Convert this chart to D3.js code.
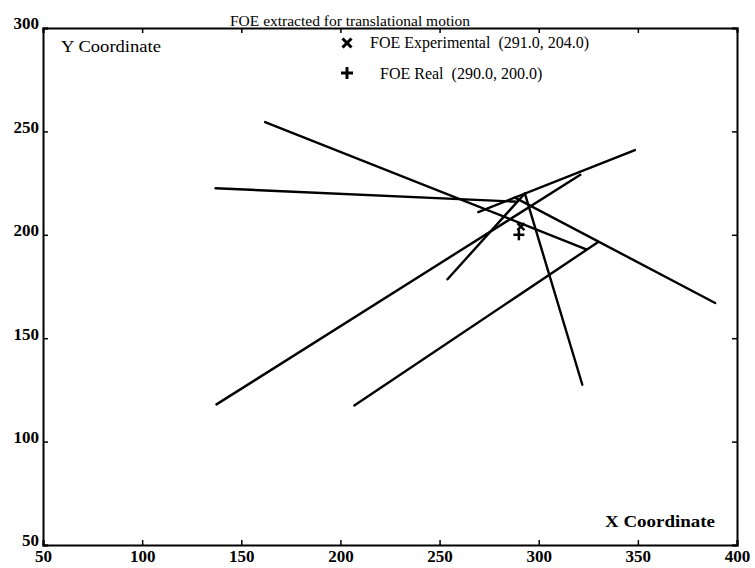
<!DOCTYPE html>
<html>
<head>
<meta charset="utf-8">
<script src="https://cdn.jsdelivr.net/npm/d3@7"></script>
<style>
  body { margin: 0; background: #fff; }
  text { font-family: "Liberation Serif", "DejaVu Serif", serif; fill: #000; }
</style>
</head>
<body>
<div id="chart"></div>
<script>
// Chart data
var xTicks = [50, 100, 150, 200, 250, 300, 350, 400];
var yTicks = [50, 100, 150, 200, 250, 300];

// Flow lines, start and end points in data coordinates
var lineStart = [[162, 254.5], [137, 222.5], [137.5, 118], [207, 117.5], [254, 178.5], [293, 220], [288, 218], [269.5, 211]];
var lineEnd   = [[324, 193],   [289, 216],   [321, 229],   [330, 196.5], [293, 220],   [322, 127.5], [389, 167], [348.5, 241]];

var foeExperimental = [291.0, 204.0];
var foeReal = [290.0, 200.0];

var titleText = "FOE extracted for translational motion";

// SVG size and margins
var svgWidth = 755;
var svgHeight = 568;
var margin = { top: 28, right: 18, bottom: 23, left: 43 };
var width = svgWidth - margin.left - margin.right;
var height = svgHeight - margin.top - margin.bottom;

var svg = d3.select("#chart")
  .append("svg")
  .attr("width", svgWidth)
  .attr("height", svgHeight);

var chartGroup = svg.append("g")
  .attr("transform", `translate(${margin.left}, ${margin.top})`);

// Scales
var xScale = d3.scaleLinear().domain([50, 400]).range([0, width]);
var yScale = d3.scaleLinear().domain([50, 300]).range([height, 0]);

// Axes with inside ticks
var bottomAxis = d3.axisBottom(xScale).tickValues(xTicks).tickSize(-5).tickPadding(5);
var topAxis = d3.axisTop(xScale).tickValues(xTicks).tickSize(-5).tickFormat("");
var leftAxis = d3.axisLeft(yScale).tickValues(yTicks).tickSize(-5).tickPadding(4);
var rightAxis = d3.axisRight(yScale).tickValues(yTicks).tickSize(-5).tickFormat("");

function styleAxis(g) {
  g.select(".domain").attr("stroke", "#000").attr("stroke-width", 2);
  g.selectAll(".tick line").attr("stroke", "#000").attr("stroke-width", 1.5);
  g.selectAll(".tick text")
    .attr("font-family", "Liberation Serif")
    .attr("font-size", "17px")
    .attr("font-weight", "bold")
    .attr("fill", "#000");
}

chartGroup.append("g")
  .attr("transform", `translate(0, ${height})`)
  .call(bottomAxis)
  .call(styleAxis);

chartGroup.append("g")
  .call(topAxis)
  .call(styleAxis);

chartGroup.append("g")
  .call(leftAxis)
  .call(styleAxis)
  .selectAll(".tick text")
  .attr("dy", "0.05em");

chartGroup.append("g")
  .attr("transform", `translate(${width}, 0)`)
  .call(rightAxis)
  .call(styleAxis);

// Flow lines
chartGroup.selectAll(".flow")
  .data(lineStart)
  .enter()
  .append("line")
  .attr("class", "flow")
  .attr("x1", d => xScale(d[0]))
  .attr("y1", d => yScale(d[1]))
  .attr("x2", (d, i) => xScale(lineEnd[i][0]))
  .attr("y2", (d, i) => yScale(lineEnd[i][1]))
  .attr("stroke", "#000")
  .attr("stroke-width", 2.4)
  .attr("stroke-linecap", "round");

// Markers: x for experimental FOE, + for real FOE
function drawX(g, cx, cy, r, w) {
  g.append("line").attr("x1", cx - r).attr("y1", cy - r).attr("x2", cx + r).attr("y2", cy + r)
    .attr("stroke", "#000").attr("stroke-width", w);
  g.append("line").attr("x1", cx - r).attr("y1", cy + r).attr("x2", cx + r).attr("y2", cy - r)
    .attr("stroke", "#000").attr("stroke-width", w);
}
function drawPlus(g, cx, cy, r, w) {
  g.append("line").attr("x1", cx - r).attr("y1", cy).attr("x2", cx + r).attr("y2", cy)
    .attr("stroke", "#000").attr("stroke-width", w);
  g.append("line").attr("x1", cx).attr("y1", cy - r).attr("x2", cx).attr("y2", cy + r)
    .attr("stroke", "#000").attr("stroke-width", w);
}

drawX(chartGroup, xScale(foeExperimental[0]), yScale(foeExperimental[1]), 3.5, 2.5);
drawPlus(chartGroup, xScale(foeReal[0]), yScale(foeReal[1]), 5.5, 2.5);

// Title, sitting on the top frame line
svg.append("text")
  .attr("x", 230)
  .attr("y", margin.top - 2)
  .attr("font-size", "15px")
  .attr("textLength", 240)
  .attr("lengthAdjust", "spacingAndGlyphs")
  .text(titleText);

// Axis name labels inside the frame
chartGroup.append("text")
  .attr("x", 18)
  .attr("y", 24)
  .attr("font-size", "16px")
  .attr("textLength", 100)
  .attr("lengthAdjust", "spacingAndGlyphs")
  .text("Y Coordinate");

chartGroup.append("text")
  .attr("x", width - 132)
  .attr("y", height - 18)
  .attr("font-size", "16px")
  .attr("font-weight", "bold")
  .attr("textLength", 110)
  .attr("lengthAdjust", "spacingAndGlyphs")
  .text("X Coordinate");

// Legend
var legend = chartGroup.append("g");
drawX(legend, 304, 15, 4.5, 3);
legend.append("text")
  .attr("x", 327)
  .attr("y", 20)
  .attr("font-size", "16px")
  .style("white-space", "pre")
  .text("FOE Experimental  (" + foeExperimental[0].toFixed(1) + ", " + foeExperimental[1].toFixed(1) + ")");

drawPlus(legend, 304, 45, 6, 3);
legend.append("text")
  .attr("x", 337)
  .attr("y", 51)
  .attr("font-size", "16px")
  .style("white-space", "pre")
  .text("FOE Real  (" + foeReal[0].toFixed(1) + ", " + foeReal[1].toFixed(1) + ")");
</script>
</body>
</html>
